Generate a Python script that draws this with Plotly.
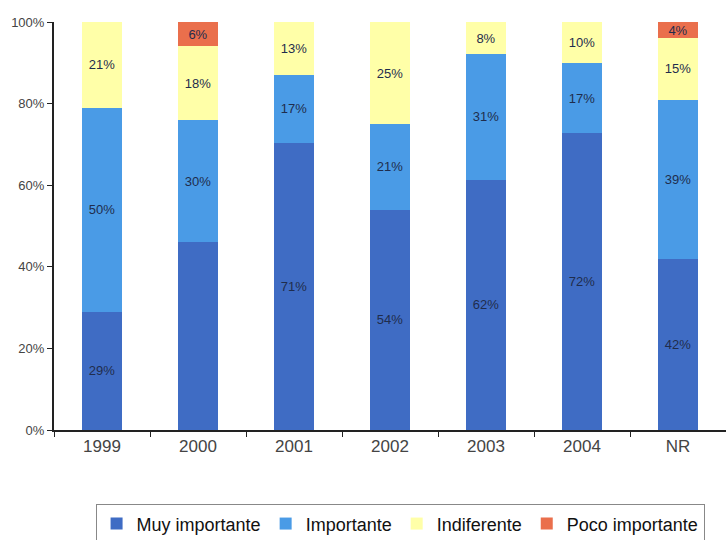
import plotly.graph_objects as go

years = ["1999", "2000", "2001", "2002", "2003", "2004", "NR"]
muy_importante = [29, 46, 71, 54, 62, 72, 42]
importante = [50, 30, 17, 21, 31, 17, 39]
indiferente = [21, 18, 13, 25, 8, 10, 15]
poco_importante = [0, 6, 0, 0, 0, 0, 4]
y_ticks = [0, 20, 40, 60, 80, 100]

# the 2000 "Muy importante" segment carries no label in the original
muy_labels = ["29%", "", "71%", "54%", "62%", "72%", "42%"]


def labels(values):
    return [f"{v}%" if v else "" for v in values]


series = [
    ("Muy importante", muy_importante, muy_labels, "#3f6cc4"),
    ("Importante", importante, labels(importante), "#4a9be6"),
    ("Indiferente", indiferente, labels(indiferente), "#ffffa8"),
    ("Poco importante", poco_importante, labels(poco_importante), "#ea6f4c"),
]

fig = go.Figure()
for name, vals, txt, color in series:
    fig.add_trace(go.Bar(
        name=name, x=years, y=vals, text=txt,
        textposition="inside", insidetextanchor="middle",
        constraintext="none",
        textfont=dict(size=13, color="#1f2d4d", family="Liberation Sans"),
        marker=dict(color=color, line=dict(width=0)),
        width=0.42,
    ))

fig.update_layout(
    barmode="stack", barnorm="percent",
    width=726, height=540,
    margin=dict(l=54, r=0, t=22, b=110, autoexpand=False),
    plot_bgcolor="white", paper_bgcolor="white",
    font=dict(family="Liberation Sans", color="#333333"),
    showlegend=True,
    legend=dict(
        orientation="h", x=0.515, xanchor="center",
        yref="container", y=0.066, yanchor="top",
        bordercolor="#888888", borderwidth=1,
        font=dict(size=18, color="#111111"),
        itemwidth=30, traceorder="normal",
    ),
)
fig.update_yaxes(
    range=[0, 100], tickvals=y_ticks, ticktext=[f"{v}%" for v in y_ticks],
    showgrid=False, showline=True, linecolor="#222222", linewidth=2,
    ticks="outside", ticklen=5, tickcolor="#222222",
    tickfont=dict(size=13, color="#444444"),
)
fig.update_xaxes(
    showgrid=False, showline=True, linecolor="#222222", linewidth=2,
    ticks="outside", ticklen=5, tickcolor="#222222", tickson="boundaries",
    tickfont=dict(size=17, color="#444444"),
)

fig.write_html(
    "out.html",
    config={"displayModeBar": False},
    post_script="document.body.style.margin='0';",
)
